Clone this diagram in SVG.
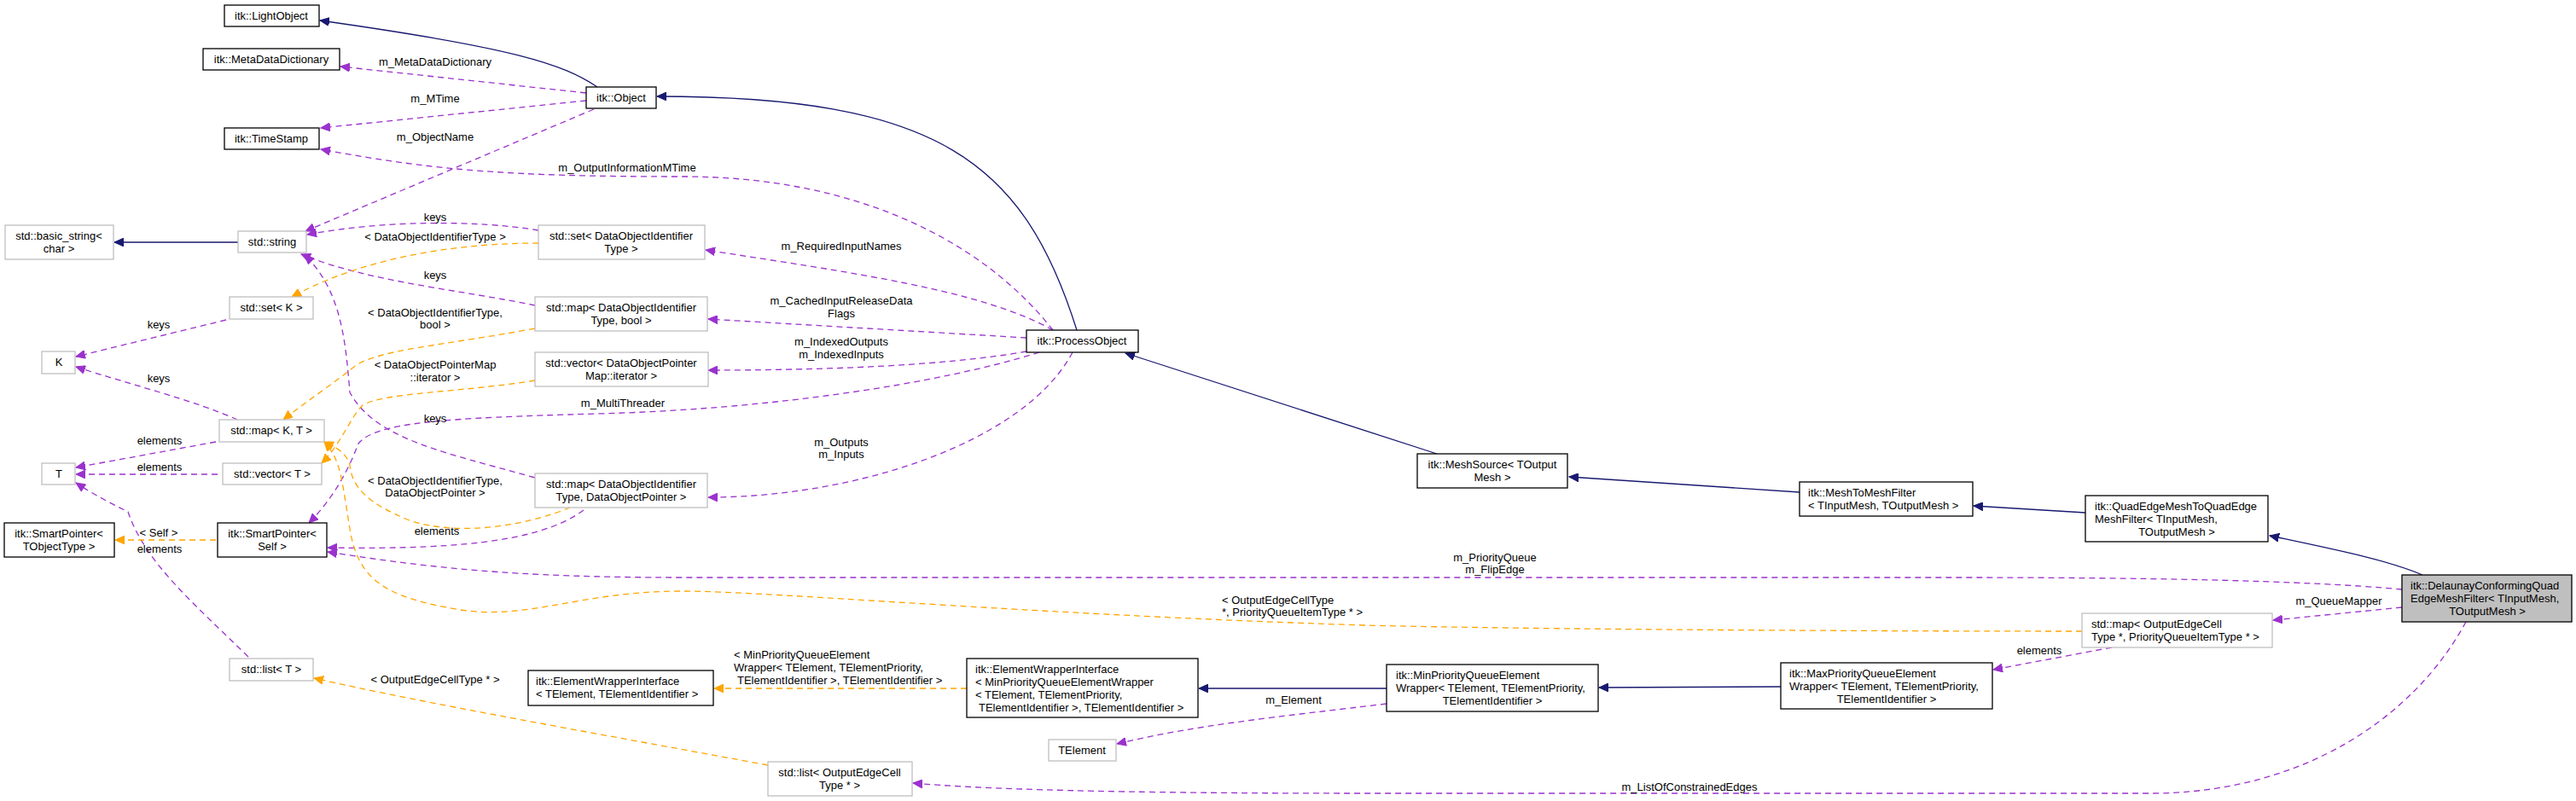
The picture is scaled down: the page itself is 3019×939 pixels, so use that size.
<svg xmlns="http://www.w3.org/2000/svg" width="3019" height="939" viewBox="0 0 3019 939">
<style>
text{font-family:"Liberation Sans",Arial,sans-serif;font-size:13px;fill:#000}
.c{text-anchor:middle}
rect.b{fill:#fff;stroke:#000;stroke-width:1.3}
rect.g{fill:#fff;stroke:#bfbfbf;stroke-width:1.3}
rect.s{fill:#bfbfbf;stroke:#000;stroke-width:1.3}
path{fill:none;stroke-width:1.3}
.i{stroke:#191970;marker-end:url(#an)}
.m{stroke:#9a32cd;stroke-dasharray:7,5;marker-end:url(#ap)}
.t{stroke:#ffa500;stroke-dasharray:7,5;marker-end:url(#ao)}
</style>
<defs>
<marker id="an" markerWidth="12" markerHeight="10" refX="11" refY="5" orient="auto" markerUnits="userSpaceOnUse"><path d="M0,0L11,5L0,10Z" style="fill:#191970;stroke:#191970;stroke-width:1"/></marker>
<marker id="ap" markerWidth="12" markerHeight="10" refX="11" refY="5" orient="auto" markerUnits="userSpaceOnUse"><path d="M0,0L11,5L0,10Z" style="fill:#9a32cd;stroke:#9a32cd;stroke-width:1"/></marker>
<marker id="ao" markerWidth="12" markerHeight="10" refX="11" refY="5" orient="auto" markerUnits="userSpaceOnUse"><path d="M0,0L11,5L0,10Z" style="fill:#ffa500;stroke:#ffa500;stroke-width:1"/></marker>
</defs>
<rect width="3019" height="939" fill="#fff"/>
<g id="edges">
<path class="i" d="M700,102C660,75 602,56 375,24"/>
<path class="i" d="M1262,387C1200,190 1100,113 770,113"/>
<path class="i" d="M1684,532L1319,414"/>
<path class="i" d="M2109,577L1839,559"/>
<path class="i" d="M2444,601L2313,593"/>
<path class="i" d="M2839,674C2800,657 2740,645 2660,628"/>
<path class="i" d="M1625,807L1405,807"/>
<path class="i" d="M2087,805L1874,806"/>
<path class="i" d="M279,284L134,284"/>
<path class="m" d="M687,109L399,78"/>
<path class="m" d="M687,118L376,150"/>
<path class="m" d="M696,128L358,271"/>
<path class="m" d="M1234,387C1150,280 1000,207 800,207C600,207 510,200 376,175"/>
<path class="m" d="M1234,387C1150,340 1000,320 827,293"/>
<path class="m" d="M1203,396L830,374"/>
<path class="m" d="M1203,412C1100,430 950,434 830,434"/>
<path class="m" d="M1257,413C1200,520 1000,583 830,583"/>
<path class="m" d="M1218,413C1100,450 900,480 700,485C520,490 440,495 420,520C405,560 385,590 362,613"/>
<path class="m" d="M631,270C560,258 450,258 360,275"/>
<path class="m" d="M627,358C540,340 430,330 353,298"/>
<path class="m" d="M627,560C520,530 440,515 410,460C405,400 400,340 357,299"/>
<path class="m" d="M265,375L89,418"/>
<path class="m" d="M278,492C230,470 150,450 89,430"/>
<path class="m" d="M253,518L89,548"/>
<path class="m" d="M255,556L89,556"/>
<path class="m" d="M291,770C230,710 170,660 150,600C130,590 110,580 89,566"/>
<path class="m" d="M684,598C640,630 560,645 384,642"/>
<path class="m" d="M2815,691C2700,680 2500,677 2300,677L800,677C600,677 500,665 384,647"/>
<path class="m" d="M2815,712L2664,727"/>
<path class="m" d="M2475,759L2336,785"/>
<path class="m" d="M2890,729C2830,840 2700,930 2520,930L1600,930C1300,930 1150,925 1070,918"/>
<path class="m" d="M1625,825C1500,840 1400,850 1309,872"/>
<path class="t" d="M631,285C540,285 430,300 342,348"/>
<path class="t" d="M627,385C520,405 440,410 415,430C390,450 360,470 332,492"/>
<path class="t" d="M627,446C540,460 450,460 425,475C410,490 400,520 377,543"/>
<path class="t" d="M668,595C620,615 540,630 480,610C430,590 412,570 410,545C405,530 395,525 380,518"/>
<path class="t" d="M253,633L135,633"/>
<path class="t" d="M2440,740C2200,740 1800,738 1600,733C1200,720 900,693 800,693C680,693 620,727 540,715C450,700 420,680 410,620C400,560 400,540 380,518"/>
<path class="t" d="M900,897C700,860 500,825 368,795"/>
<path class="t" d="M1133,807L837,807"/>
</g>
<g id="labels">
<text class="c" x="510" y="77">m_MetaDataDictionary</text>
<text class="c" x="510" y="120">m_MTime</text>
<text class="c" x="510" y="165">m_ObjectName</text>
<text class="c" x="735" y="201">m_OutputInformationMTime</text>
<text class="c" x="986" y="293">m_RequiredInputNames</text>
<text class="c" x="986" y="357">m_CachedInputReleaseData</text>
<text class="c" x="986" y="372">Flags</text>
<text class="c" x="986" y="405">m_IndexedOutputs</text>
<text class="c" x="986" y="420">m_IndexedInputs</text>
<text class="c" x="986" y="523">m_Outputs</text>
<text class="c" x="986" y="537">m_Inputs</text>
<text class="c" x="730" y="477">m_MultiThreader</text>
<text class="c" x="510" y="259">keys</text>
<text class="c" x="510" y="282">&lt; DataObjectIdentifierType &gt;</text>
<text class="c" x="510" y="327">keys</text>
<text class="c" x="510" y="371">&lt; DataObjectIdentifierType,</text>
<text class="c" x="510" y="385">bool &gt;</text>
<text class="c" x="510" y="432">&lt; DataObjectPointerMap</text>
<text class="c" x="510" y="447">::iterator &gt;</text>
<text class="c" x="510" y="495">keys</text>
<text class="c" x="510" y="568">&lt; DataObjectIdentifierType,</text>
<text class="c" x="510" y="582">DataObjectPointer &gt;</text>
<text class="c" x="512" y="627">elements</text>
<text class="c" x="186" y="385">keys</text>
<text class="c" x="186" y="448">keys</text>
<text class="c" x="187" y="521">elements</text>
<text class="c" x="187" y="552">elements</text>
<text class="c" x="186" y="629">&lt; Self &gt;</text>
<text class="c" x="187" y="648">elements</text>
<text class="c" x="510" y="801">&lt; OutputEdgeCellType * &gt;</text>
<text x="860" y="772">&lt; MinPriorityQueueElement</text>
<text x="860" y="787">Wrapper&lt; TElement, TElementPriority,</text>
<text x="864" y="802">TElementIdentifier &gt;, TElementIdentifier &gt;</text>
<text x="1432" y="708">&lt; OutputEdgeCellType</text>
<text x="1432" y="722">*, PriorityQueueItemType * &gt;</text>
<text class="c" x="1516" y="825">m_Element</text>
<text class="c" x="1752" y="658">m_PriorityQueue</text>
<text class="c" x="1752" y="672">m_FlipEdge</text>
<text class="c" x="2741" y="709">m_QueueMapper</text>
<text class="c" x="2390" y="767">elements</text>
<text class="c" x="1980" y="927">m_ListOfConstrainedEdges</text>
</g>
<g id="LightObject"><rect class="b" x="263" y="6" width="111" height="25"/><text class="c" x="318" y="23">itk::LightObject</text></g>
<g id="MetaDataDictionary"><rect class="b" x="238" y="57" width="160" height="25"/><text class="c" x="318" y="74">itk::MetaDataDictionary</text></g>
<g id="TimeStamp"><rect class="b" x="263" y="150" width="111" height="25"/><text class="c" x="318" y="167">itk::TimeStamp</text></g>
<g id="Object"><rect class="b" x="687" y="102" width="82" height="25"/><text class="c" x="728" y="119">itk::Object</text></g>
<g id="basic_string"><rect class="g" x="6" y="264" width="127" height="40"/><text class="c" x="69" y="281">std::basic_string&lt;</text><text class="c" x="69" y="296">char &gt;</text></g>
<g id="string"><rect class="g" x="279" y="271" width="80" height="25"/><text class="c" x="319" y="288">std::string</text></g>
<g id="setDOIT"><rect class="g" x="631" y="264" width="195" height="40"/><text class="c" x="728" y="281">std::set&lt; DataObjectIdentifier</text><text class="c" x="728" y="296">Type &gt;</text></g>
<g id="mapDOITbool"><rect class="g" x="627" y="348" width="202" height="40"/><text class="c" x="728" y="365">std::map&lt; DataObjectIdentifier</text><text class="c" x="728" y="380">Type, bool &gt;</text></g>
<g id="vectorDOPM"><rect class="g" x="627" y="413" width="203" height="40"/><text class="c" x="728" y="430">std::vector&lt; DataObjectPointer</text><text class="c" x="728" y="445">Map::iterator &gt;</text></g>
<g id="ProcessObject"><rect class="b" x="1203" y="387" width="131" height="26"/><text class="c" x="1268" y="404">itk::ProcessObject</text></g>
<g id="setK"><rect class="g" x="269" y="348" width="98" height="26"/><text class="c" x="318" y="365">std::set&lt; K &gt;</text></g>
<g id="K"><rect class="g" x="49" y="412" width="39" height="26"/><text class="c" x="69" y="429">K</text></g>
<g id="mapKT"><rect class="g" x="257" y="492" width="123" height="26"/><text class="c" x="318" y="509">std::map&lt; K, T &gt;</text></g>
<g id="T"><rect class="g" x="49" y="543" width="39" height="25"/><text class="c" x="69" y="560">T</text></g>
<g id="vectorT"><rect class="g" x="261" y="543" width="116" height="25"/><text class="c" x="319" y="560">std::vector&lt; T &gt;</text></g>
<g id="SPTObjectType"><rect class="b" x="5" y="613" width="129" height="40"/><text class="c" x="69" y="630">itk::SmartPointer&lt;</text><text class="c" x="69" y="645">TObjectType &gt;</text></g>
<g id="SPSelf"><rect class="b" x="255" y="613" width="128" height="40"/><text class="c" x="319" y="630">itk::SmartPointer&lt;</text><text class="c" x="319" y="645">Self &gt;</text></g>
<g id="mapDOITDOP"><rect class="g" x="627" y="555" width="202" height="40"/><text class="c" x="728" y="572">std::map&lt; DataObjectIdentifier</text><text class="c" x="728" y="587">Type, DataObjectPointer &gt;</text></g>
<g id="listT"><rect class="g" x="269" y="772" width="98" height="26"/><text class="c" x="318" y="789">std::list&lt; T &gt;</text></g>
<g id="EWI"><rect class="b" x="619" y="786" width="217" height="41"/><text x="628" y="803">itk::ElementWrapperInterface</text><text x="628" y="818">&lt; TElement, TElementIdentifier &gt;</text></g>
<g id="EWIMin"><rect class="b" x="1133" y="772" width="271" height="69"/><text x="1143" y="789">itk::ElementWrapperInterface</text><text x="1143" y="804">&lt; MinPriorityQueueElementWrapper</text><text x="1143" y="819">&lt; TElement, TElementPriority,</text><text x="1147" y="834">TElementIdentifier &gt;, TElementIdentifier &gt;</text></g>
<g id="TElement"><rect class="g" x="1229" y="867" width="79" height="25"/><text class="c" x="1268" y="884">TElement</text></g>
<g id="listOECT"><rect class="g" x="900" y="893" width="169" height="40"/><text class="c" x="984" y="910">std::list&lt; OutputEdgeCell</text><text class="c" x="984" y="925">Type * &gt;</text></g>
<g id="MeshSource"><rect class="b" x="1661" y="532" width="176" height="40"/><text class="c" x="1749" y="549">itk::MeshSource&lt; TOutput</text><text class="c" x="1749" y="564">Mesh &gt;</text></g>
<g id="MeshToMeshFilter"><rect class="b" x="2109" y="565" width="203" height="40"/><text x="2119" y="582">itk::MeshToMeshFilter</text><text x="2119" y="597">&lt; TInputMesh, TOutputMesh &gt;</text></g>
<g id="MinPQEW"><rect class="b" x="1625" y="779" width="248" height="55"/><text x="1636" y="796">itk::MinPriorityQueueElement</text><text x="1636" y="811">Wrapper&lt; TElement, TElementPriority,</text><text class="c" x="1749" y="826">TElementIdentifier &gt;</text></g>
<g id="MaxPQEW"><rect class="b" x="2087" y="777" width="248" height="54"/><text x="2097" y="794">itk::MaxPriorityQueueElement</text><text x="2097" y="809">Wrapper&lt; TElement, TElementPriority,</text><text class="c" x="2211" y="824">TElementIdentifier &gt;</text></g>
<g id="QuadEdge"><rect class="b" x="2444" y="581" width="214" height="54"/><text x="2455" y="598">itk::QuadEdgeMeshToQuadEdge</text><text x="2455" y="613">MeshFilter&lt; TInputMesh,</text><text class="c" x="2551" y="628">TOutputMesh &gt;</text></g>
<g id="Delaunay"><rect class="s" x="2815" y="674" width="199" height="55"/><text x="2825" y="691">itk::DelaunayConformingQuad</text><text x="2825" y="706">EdgeMeshFilter&lt; TInputMesh,</text><text class="c" x="2915" y="721">TOutputMesh &gt;</text></g>
<g id="mapOECT"><rect class="g" x="2440" y="719" width="223" height="40"/><text x="2451" y="736">std::map&lt; OutputEdgeCell</text><text x="2451" y="751">Type *, PriorityQueueItemType * &gt;</text></g>
</svg>
